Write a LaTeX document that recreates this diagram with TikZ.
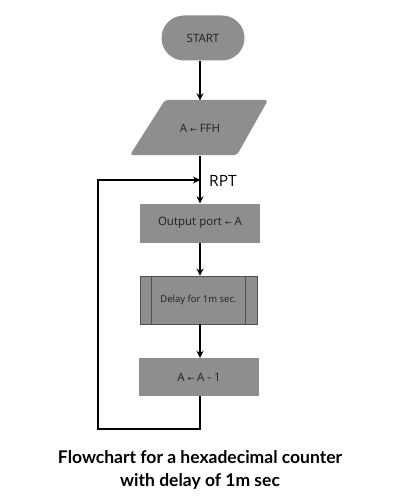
\documentclass[tikz,border=0pt]{standalone}
\usepackage{fontspec}
\setmainfont{Lato}
\newfontfamily\osans{Open Sans}
\newfontfamily\djv{DejaVu Sans}
\usetikzlibrary{arrows.meta}
\definecolor{boxgray}{HTML}{8E8E8E}
\definecolor{txtgray}{HTML}{202020}
\definecolor{edgegray}{HTML}{505050}
\newcommand{\larr}{{\djv\fontsize{8}{8}\selectfont ←}}
\tikzset{
  flow/.style={line width=1.8pt, -{Stealth[length=7pt,width=7pt]}},
  loopline/.style={line width=1.8pt},
  boxstyle/.style={fill=boxgray, draw=none, text=txtgray, font=\osans\fontsize{11.5}{13}\selectfont, inner sep=0pt},
}
\begin{document}
\begin{tikzpicture}[x=1pt,y=-1pt]
\useasboundingbox[fill=white] (0,0) rectangle (400,500);
% start
\node[boxstyle, rounded corners=22.5pt, minimum width=83pt, minimum height=45pt] (start) at (203,38) {START};
% parallelogram
\fill[boxgray, rounded corners=3pt] (130,155) -- (165,100) -- (268,100) -- (237,155) -- cycle;
\node[inner sep=0pt, minimum width=60pt, minimum height=55pt, text=txtgray, font=\osans\fontsize{11.5}{13}\selectfont] (init) at (200,128) {A \larr{} FFH};
% output
\node[boxstyle, minimum width=120pt, minimum height=39pt] (out) at (200,223) {Output port \larr{} A};
% delay
\node[boxstyle, draw=edgegray, line width=0.6pt, minimum width=117pt, minimum height=48pt, font=\osans\fontsize{9.5}{11}\selectfont] (delay) at (198.5,300) {Delay for 1m sec.};
\draw[edgegray, line width=0.6pt] ([xshift=12pt]delay.north west) -- ([xshift=12pt]delay.south west);
\draw[edgegray, line width=0.6pt] ([xshift=-12pt]delay.north east) -- ([xshift=-12pt]delay.south east);
% decrement
\node[boxstyle, minimum width=120pt, minimum height=38pt] (dec) at (199,377) {A \larr{} A - 1};
% RPT
\coordinate (rpt) at (200,180);
\node[anchor=west, inner sep=0pt, font=\osans\fontsize{15.5}{17}\selectfont, text=black] (rptlabel) at (209,181) {RPT};
\coordinate (c1) at (200,429);
\coordinate (c2) at (98,429);
\coordinate (c3) at (98,180);
% connectors
\draw[flow] (start.south -| init.north) -- (init.north);
\draw[loopline] (init.south) -- (rpt);
\draw[flow] (rpt) -- (out.north);
\draw[flow] (out.south) -- (delay.north -| out.south);
\draw[flow] (delay.south -| out.south) -- (dec.north -| out.south);
\draw[flow] (dec.south -| out.south) -- (c1) -- (c2) -- (c3) -- (rpt);
% title
\node[font=\bfseries\fontsize{17.5}{23}\selectfont, align=center, text=black] (title) at (200,470) {Flowchart for a hexadecimal counter\\with delay of 1m sec};
\end{tikzpicture}
\end{document}
